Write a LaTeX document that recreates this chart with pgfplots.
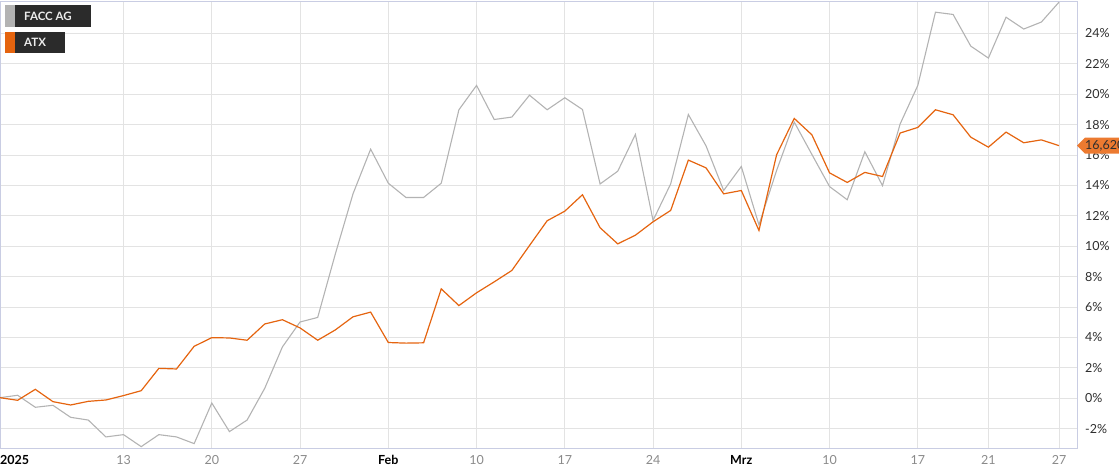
\documentclass[border=0pt]{standalone}
\usepackage{fontspec}
\setmainfont{Lato}
\usepackage{pgfplots}
\pgfplotsset{compat=1.18}

\definecolor{facc}{HTML}{B3B3B3}
\definecolor{atx}{HTML}{E5640F}
\definecolor{tagfill}{HTML}{EC7A30}
\definecolor{gridc}{HTML}{E3E3E3}
\definecolor{frame}{HTML}{C9CDE3}
\definecolor{tickgray}{HTML}{8A8A8A}
\definecolor{ticktext}{HTML}{2E2E2E}
\definecolor{legbox}{HTML}{2B2B2B}

\begin{document}
\begin{tikzpicture}
\begin{axis}[
    name=ax,
    scale only axis,
    width=1077bp,
    height=446bp,
    xmin=0, xmax=61.02,
    ymin=-3.27, ymax=26.07,
    axis line style={draw=frame, line width=1bp},
    major tick length=0pt,
    grid=major,
    major grid style={draw=gridc, line width=1bp},
    xtick={0,7,12,17,22,27,32,37,42,47,52,56,60},
    xticklabels={,13,20,27,\textcolor{black}{\textbf{Feb}},10,17,24,\textcolor{black}{\textbf{Mrz}},10,17,21,27},
    xticklabel style={anchor=base, inner sep=0pt, yshift=-16bp, text=tickgray},
    ytick={-2,0,2,4,6,8,10,12,14,16,18,20,22,24},
    yticklabels={-2\%,0\%,2\%,4\%,6\%,8\%,10\%,12\%,14\%,16\%,18\%,20\%,22\%,24\%},
    yticklabel pos=right,
    yticklabel style={anchor=west, inner sep=0pt, xshift=8bp, text=ticktext},
    ticklabel style={font=\fontsize{12.5bp}{15bp}\selectfont},
    /pgf/number format/assume math mode=true,
]
% FACC AG
\addplot[facc, line width=1.1bp] coordinates {
    (0,0.04) (1,0.2) (2,-0.59) (3,-0.46) (4,-1.25) (5,-1.43) (6,-2.54)
    (7,-2.39) (8,-3.18) (9,-2.39) (10,-2.54) (11,-2.98) (12,-0.31)
    (13,-2.19) (14,-1.43) (15,0.66) (16,3.38) (17,5.02) (18,5.32)
    (19,9.5) (20,13.45) (21,16.39) (22,14.15) (23,13.21) (24,13.21)
    (25,14.15) (26,18.98) (27,20.58) (28,18.34) (29,18.5) (30,19.94)
    (31,18.98) (32,19.77) (33,19.0) (34,14.1) (35,14.94) (36,17.36)
    (37,11.7) (38,14.11) (39,18.67) (40,16.61) (41,13.67) (42,15.25)
    (43,11.41) (44,14.99) (45,18.17) (46,16.04) (47,13.93) (48,13.06)
    (49,16.22) (50,13.99) (51,18.05) (52,20.58) (53,25.4) (54,25.25)
    (55,23.17) (56,22.38) (57,25.07) (58,24.29) (59,24.75) (60,26.06)
};
% ATX
\addplot[atx, line width=1.2bp] coordinates {
    (0,0.04) (1,-0.13) (2,0.59) (3,-0.22) (4,-0.44) (5,-0.2) (6,-0.11)
    (7,0.18) (8,0.5) (9,1.97) (10,1.93) (11,3.42) (12,3.99) (13,3.97)
    (14,3.82) (15,4.89) (16,5.17) (17,4.63) (18,3.82) (19,4.5) (20,5.36)
    (21,5.67) (22,3.67) (23,3.63) (24,3.65) (25,7.2) (26,6.1) (27,6.94)
    (28,7.66) (29,8.41) (30,10.05) (31,11.68) (32,12.31) (33,13.39)
    (34,11.22) (35,10.16) (36,10.73) (37,11.61) (38,12.36) (39,15.67)
    (40,15.16) (41,13.45) (42,13.67) (43,11.04) (44,16.02) (45,18.41)
    (46,17.33) (47,14.83) (48,14.2) (49,14.86) (50,14.59) (51,17.45)
    (52,17.82) (53,18.98) (54,18.65) (55,17.18) (56,16.52) (57,17.51)
    (58,16.81) (59,17.0) (60,16.62)
};
\coordinate (tip) at (axis cs:61.02,16.62);
\end{axis}

% first tick label, set flush left
\node[anchor=base west, inner sep=0pt, font=\fontsize{12.5bp}{15bp}\selectfont\bfseries]
    at ([yshift=-16bp]ax.south west) {2025};

% last value tag
\fill[tagfill] (tip) -- ++(8bp,8bp) -- ++(50bp,0) -- ++(0,-16bp) -- ++(-50bp,0) -- cycle;
\node[anchor=west, inner sep=0pt, text=ticktext, font=\fontsize{12.5bp}{15bp}\selectfont]
    at ([xshift=8bp]tip) {16,620};

% legend
\begin{scope}[shift={(ax.north west)}, x=1bp, y=1bp]
  \fill[facc] (5,-3) rectangle (15,-25);
  \fill[legbox] (15,-3) rectangle (91,-25);
  \node[anchor=west, inner sep=0pt, text=white!93!black, font=\fontsize{11.5bp}{14bp}\selectfont\bfseries] at (24,-14) {FACC AG};
  \fill[atx] (5,-30) rectangle (15,-51);
  \fill[legbox] (15,-30) rectangle (65,-51);
  \node[anchor=west, inner sep=0pt, text=white!93!black, font=\fontsize{11.5bp}{14bp}\selectfont\bfseries] at (24,-40.5) {ATX};
\end{scope}

\pgfresetboundingbox
\useasboundingbox ([yshift=-26bp]ax.south west) rectangle ([xshift=42bp,yshift=2bp]ax.north east);
\end{tikzpicture}
\end{document}
